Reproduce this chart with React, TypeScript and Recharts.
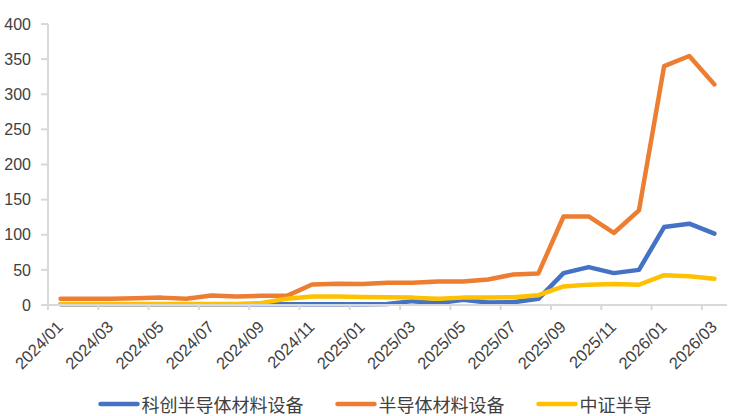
import React from 'react';
import { LineChart, Line, XAxis, YAxis, Legend } from 'recharts';

const months = [
  '2024/01', '2024/02', '2024/03', '2024/04', '2024/05', '2024/06', '2024/07', '2024/08', '2024/09',
  '2024/10', '2024/11', '2024/12', '2025/01', '2025/02', '2025/03', '2025/04', '2025/05', '2025/06',
  '2025/07', '2025/08', '2025/09', '2025/10', '2025/11', '2025/12', '2026/01', '2026/02', '2026/03',
];

const kechuang = [1, 1, 1, 1, 1, 1, 1, 1, 1, 1, 1, 1, 1, 1.5, 5.5, 2.6, 7.4, 3.6, 4, 8.8, 45.4, 54, 45.4, 50, 111, 115.8, 101.5];
const bandaoti = [9, 9, 9, 9.5, 10.5, 9, 13.5, 12, 13, 13, 29.2, 30.2, 30, 31.6, 31.6, 33.5, 33.5, 36.4, 43.5, 45, 126, 126, 102.5, 134.8, 340, 354.5, 314];
const zhongzheng = [1.5, 1.5, 1.5, 1.5, 1.5, 1.5, 1.5, 1.5, 3, 9, 12, 12, 11.5, 11, 10.5, 8.8, 10.5, 10.5, 11, 14, 26.4, 29, 30, 28.8, 42.5, 41, 37.4];

const yTicks = [0, 50, 100, 150, 200, 250, 300, 350, 400];

const seriesNames = ['科创半导体材料设备', '半导体材料设备', '中证半导'];
const seriesColors = ['#4472C4', '#ED7D31', '#FFC000'];

const data = months.map((m, i) => ({
  month: m,
  kechuang: kechuang[i],
  bandaoti: bandaoti[i],
  zhongzheng: zhongzheng[i],
}));

const WIDTH = 732;
const HEIGHT = 416;
const Y_AXIS_WIDTH = 48;
const RIGHT_MARGIN = 5;
const PLOT_WIDTH = WIDTH - Y_AXIS_WIDTH - RIGHT_MARGIN;
const STEP = PLOT_WIDTH / months.length;
const HALF = STEP / 2;
const AXIS_COLOR = '#D9D9D9';
const TEXT_COLOR = '#404040';
const FONT = '"Liberation Sans", Arial, sans-serif';
const LINE_W = 4.5;

const XTick = (props: any) => {
  const { x, y, payload } = props;
  const ax = x + 3.5;
  const ay = y + 23;
  return (
    <g>
      <line x1={x - HALF} x2={x - HALF} y1={y} y2={y + 5} stroke={AXIS_COLOR} strokeWidth={2} />
      <text
        x={ax}
        y={ay}
        textAnchor="end"
        transform={`rotate(-45 ${ax} ${ay})`}
        fontSize={16.5}
        fill={TEXT_COLOR}
        fontFamily={FONT}
      >
        {payload.value}
      </text>
    </g>
  );
};

const LegendContent = () => {
  const items = seriesNames.map((n, i) => ({ name: n, color: seriesColors[i] }));
  return (
    <div
      style={{
        height: 30,
        boxSizing: 'border-box',
        paddingTop: 6,
        paddingLeft: 22,
        display: 'flex',
        alignItems: 'center',
        justifyContent: 'center',
        fontFamily: '"Noto Sans CJK SC", sans-serif',
        fontSize: 18,
        color: TEXT_COLOR,
      }}
    >
      {items.map((it, i) => (
        <div key={it.name} style={{ display: 'flex', alignItems: 'center', marginLeft: i === 0 ? 0 : 31 }}>
          <svg width={42} height={8} style={{ marginRight: 2 }}>
            <line x1={2.5} x2={39.5} y1={4} y2={4} stroke={it.color} strokeWidth={LINE_W} strokeLinecap="round" />
          </svg>
          <span style={{ lineHeight: '24px' }}>{it.name}</span>
        </div>
      ))}
    </div>
  );
};

export default function App() {
  return (
    <div style={{ width: WIDTH, height: HEIGHT, background: '#fff' }}>
      <style>{'body{margin:0;}'}</style>
      <LineChart
        width={WIDTH}
        height={HEIGHT}
        data={data}
        margin={{ top: 24, right: RIGHT_MARGIN, left: 0, bottom: 0 }}
      >
        <XAxis
          dataKey="month"
          interval={1}
          padding={{ left: HALF, right: HALF }}
          height={81}
          tickSize={0}
          tickMargin={0}
          tickLine={false}
          axisLine={{ stroke: AXIS_COLOR, strokeWidth: 2 }}
          tick={<XTick />}
        />
        <YAxis
          width={Y_AXIS_WIDTH}
          domain={[0, 400]}
          ticks={yTicks}
          interval={0}
          tickSize={7}
          tickMargin={10}
          axisLine={{ stroke: AXIS_COLOR, strokeWidth: 2 }}
          tickLine={{ stroke: AXIS_COLOR, strokeWidth: 2 }}
          tick={{ fontSize: 16, fill: TEXT_COLOR, fontFamily: FONT }}
        />
        <Legend verticalAlign="bottom" content={<LegendContent />} />
        <Line
          type="linear"
          dataKey="kechuang"
          name={seriesNames[0]}
          stroke={seriesColors[0]}
          strokeWidth={LINE_W}
          strokeLinecap="round"
          strokeLinejoin="round"
          dot={false}
          activeDot={false}
          isAnimationActive={false}
        />
        <Line
          type="linear"
          dataKey="bandaoti"
          name={seriesNames[1]}
          stroke={seriesColors[1]}
          strokeWidth={LINE_W}
          strokeLinecap="round"
          strokeLinejoin="round"
          dot={false}
          activeDot={false}
          isAnimationActive={false}
        />
        <Line
          type="linear"
          dataKey="zhongzheng"
          name={seriesNames[2]}
          stroke={seriesColors[2]}
          strokeWidth={LINE_W}
          strokeLinecap="round"
          strokeLinejoin="round"
          dot={false}
          activeDot={false}
          isAnimationActive={false}
        />
      </LineChart>
    </div>
  );
}
